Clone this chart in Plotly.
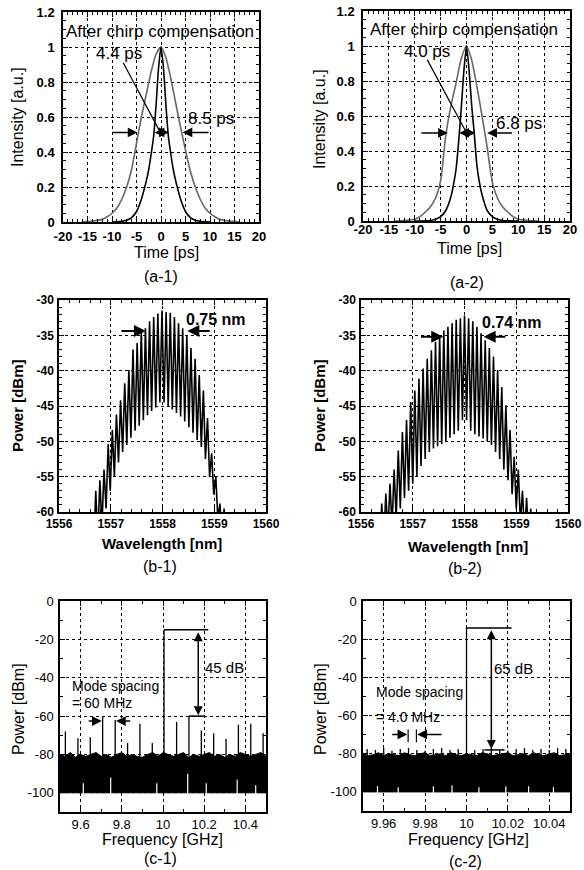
import plotly.graph_objects as go

W, H = 584, 870
FONT = "Liberation Sans, Arial, sans-serif"

# ---------------- data ----------------
# (a-1) pulse shapes
t_a1_black = [-10, -8, -7, -6, -5, -4, -3.5, -3, -2.5, -2, -1.5, -1, -0.5, 0, 0.5, 1, 1.5, 2, 2.5, 3, 3.5, 4, 5, 6, 7, 8, 10]
i_a1_black = [0, 0.004, 0.01, 0.025, 0.06, 0.13, 0.18, 0.235, 0.30, 0.39, 0.49, 0.67, 0.88, 1.0, 0.88, 0.67, 0.49, 0.39, 0.30, 0.235, 0.18, 0.13, 0.06, 0.025, 0.01, 0.004, 0]
t_a1_gray = [-16, -14, -12, -11, -10, -9, -8, -7, -6, -5, -4, -3, -2, -1, 0, 1, 2, 3, 4, 5, 6, 7, 8, 9, 10, 11, 12, 14, 16]
i_a1_gray = [0, 0.005, 0.015, 0.03, 0.05, 0.08, 0.13, 0.2, 0.3, 0.45, 0.6, 0.73, 0.86, 0.96, 1.0, 0.94, 0.82, 0.68, 0.54, 0.41, 0.29, 0.2, 0.13, 0.08, 0.05, 0.03, 0.015, 0.005, 0]
# (a-2) pulse shapes
t_a2_black = [-10, -7, -6, -5, -4, -3, -2.5, -2, -1.5, -1, -0.5, 0, 0.5, 1, 1.5, 2, 2.5, 3, 4, 5, 6, 7, 10]
i_a2_black = [0, 0.003, 0.01, 0.025, 0.06, 0.14, 0.21, 0.3, 0.46, 0.65, 0.86, 1.0, 0.86, 0.66, 0.5, 0.32, 0.22, 0.15, 0.06, 0.025, 0.01, 0.003, 0]
t_a2_gray = [-14, -12, -10, -9, -8, -7, -6, -5, -4, -3, -2, -1, 0, 1, 2, 3, 4, 5, 6, 7, 8, 9, 10, 12, 14]
i_a2_gray = [0, 0.003, 0.01, 0.025, 0.05, 0.08, 0.13, 0.23, 0.49, 0.66, 0.79, 0.93, 1.0, 0.92, 0.77, 0.60, 0.42, 0.22, 0.13, 0.08, 0.05, 0.025, 0.01, 0.003, 0]

# (b-1) optical comb lines
wl_b1 = [1556.71, 1556.79, 1556.87, 1556.95, 1557.03, 1557.11, 1557.19, 1557.27, 1557.35, 1557.43,
         1557.51, 1557.59, 1557.67, 1557.75, 1557.83, 1557.91, 1557.99, 1558.07, 1558.15, 1558.23,
         1558.31, 1558.39, 1558.47, 1558.55, 1558.63, 1558.71, 1558.79, 1558.87, 1558.95, 1559.03,
         1559.11, 1559.19]
peak_b1 = [-57, -55.5, -54, -50.4, -48.4, -46.2, -44.2, -41.8, -39.9, -37,
           -36.1, -34.3, -34, -33, -32.4, -31.9, -31.5, -31.7, -31.8, -32.4,
           -33.3, -34, -35, -36.8, -38.3, -40.6, -42.8, -46.7, -51.7, -55,
           -58.8, -59.5]
valley_b1 = [-66, -64, -62, -59.5, -57, -55, -53, -51.5, -50.5, -49.5, -48.5, -47.8, -47, -46.3,
             -45.7, -45.2, -44.5, -44.5, -45, -45.5, -46, -46.5, -47.2, -48, -48.8, -49.8, -50.8,
             -52.5, -55, -57.5, -61, -64, -67]
# (b-2) optical comb lines
wl_b2 = [1556.40, 1556.48, 1556.56, 1556.64, 1556.72, 1556.80, 1556.88, 1556.96, 1557.04, 1557.12,
         1557.20, 1557.28, 1557.36, 1557.44, 1557.52, 1557.60, 1557.68, 1557.76, 1557.84, 1557.92,
         1558.00, 1558.08, 1558.16, 1558.24, 1558.32, 1558.40, 1558.48, 1558.56, 1558.64, 1558.72,
         1558.80, 1558.88, 1558.96, 1559.04, 1559.12, 1559.20, 1559.28]
peak_b2 = [-58.8, -57.4, -56, -54, -51.3, -48.7, -47, -44.4, -42.8, -41.1,
           -39.7, -38.3, -37.1, -35.9, -35.2, -34.3, -33.8, -33.3, -32.8, -32.6,
           -32.2, -32.6, -33, -33.8, -34.7, -35.7, -36.8, -38, -39.9, -42.3,
           -44.9, -48.4, -52.2, -54, -57, -58, -59.5]
valley_b2 = [-66, -64, -63, -62, -61, -59.5, -58, -57, -56, -55,
             -53.5, -52.5, -51.5, -51, -50.7, -50.4, -50, -49.5, -49, -48.5,
             -47, -47, -48.5, -49, -49.3, -49.6, -50, -50.5, -51.5, -52.5,
             -54, -55.5, -57.5, -59.5, -61.5, -63, -64, -66]

# (c-1) RF spectrum
spike_f_c1 = [9.526, 9.587, 9.647, 9.707, 9.768, 9.828, 9.888, 9.948, 10.005, 10.066,
              10.126, 10.186, 10.246, 10.306, 10.366, 10.426, 10.486]
spike_p_c1 = [-68, -71.5, -71, -60, -62, -74, -64, -74, -15, -63,
              -60, -67.5, -69, -72, -64.5, -64, -69]
band_f_c1 = [9.500, 9.525, 9.550, 9.575, 9.600, 9.625, 9.650, 9.675, 9.700, 9.725,
             9.750, 9.775, 9.800, 9.825, 9.850, 9.875, 9.900, 9.925, 9.950, 9.975,
             10.000, 10.025, 10.050, 10.075, 10.100, 10.125, 10.150, 10.175, 10.200, 10.225,
             10.250, 10.275, 10.300, 10.325, 10.350, 10.375, 10.400, 10.425, 10.450, 10.475, 10.500]
band_top_c1 = [-80, -81, -79, -81.5, -80, -81, -80, -79, -81, -80,
               -81.5, -80, -79, -81, -80, -81, -81.5, -80, -79, -81,
               -79, -80, -81, -80, -79, -81.5, -80, -81, -80, -79,
               -81, -80, -81.5, -80, -81, -79, -80, -81, -80, -79, -81]
band_low_c1 = -100
notch_f_c1 = [9.613, 9.746, 9.97, 10.12, 10.21, 10.36, 10.45]
notch_p_c1 = [-95, -92, -95, -90, -95, -93, -96]

# (c-2) RF spectrum
spike_f_c2 = [9.952, 9.956, 9.960, 9.964, 9.968, 9.972, 9.976, 9.980, 9.984, 9.988, 9.992, 9.996,
              10.000, 10.004, 10.008, 10.012, 10.016, 10.020, 10.024, 10.028, 10.032, 10.036,
              10.040, 10.044, 10.048]
spike_p_c2 = [-77.5, -78, -77, -78.5, -77.5, -77, -78, -78.5, -77.5, -77, -78, -77.5,
              -14, -78, -77.5, -77, -78, -78.5, -77.5, -77, -78, -77.5, -78, -77, -77.5]
band_f_c2 = [9.950, 9.9525, 9.955, 9.9575, 9.960, 9.9625, 9.965, 9.9675, 9.970, 9.9725,
             9.975, 9.9775, 9.980, 9.9825, 9.985, 9.9875, 9.990, 9.9925, 9.995, 9.9975,
             10.000, 10.0025, 10.005, 10.0075, 10.010, 10.0125, 10.015, 10.0175, 10.020, 10.0225,
             10.025, 10.0275, 10.030, 10.0325, 10.035, 10.0375, 10.040, 10.0425, 10.045, 10.0475, 10.050]
band_top_c2 = [-80, -81, -80.5, -79.5, -81, -80, -80.5, -81, -79.5, -80.5,
               -81, -80, -79.5, -81, -80.5, -80, -81, -79.5, -80.5, -81,
               -80, -80.5, -81, -79.5, -80, -81, -80.5, -80, -79.5, -81,
               -80.5, -80, -81, -79.5, -80.5, -81, -80, -79.5, -81, -80.5, -80]
band_low_c2 = -100
notch_f_c2 = [9.957, 9.967, 9.984, 9.993, 10.006, 10.019, 10.030, 10.042]
notch_p_c2 = [-97, -97.5, -97, -96.5, -97.5, -97, -97, -97.5]

# tick values
ticks_a_x = [-20, -15, -10, -5, 0, 5, 10, 15, 20]
ticks_a_y = [0, 0.2, 0.4, 0.6, 0.8, 1, 1.2]
ticks_b_x = [1556, 1557, 1558, 1559, 1560]
ticks_b_y = [-60, -55, -50, -45, -40, -35, -30]
ticks_c1_x = [9.6, 9.8, 10, 10.2, 10.4]
ticks_c2_x = [9.96, 9.98, 10, 10.02, 10.04]
ticks_c_y = [-100, -80, -60, -40, -20, 0]

# ---------------- layout helpers ----------------
def dx(x0, x1):
    return [x0 / W, x1 / W]

def dy(y0, y1):
    return [1 - y1 / H, 1 - y0 / H]

def axis(domain, rng, tickvals, mdt, m0, anchor, bold, size, standoff):
    return dict(
        domain=domain, range=rng, anchor=anchor, automargin=False,
        tickmode="array", tickvals=tickvals, ticktext=[f"{v:g}" for v in tickvals],
        ticks="inside", ticklen=5, tickwidth=1, tickcolor="black",
        ticklabelstandoff=standoff,
        showline=True, linecolor="black", linewidth=1.5, mirror="allticks",
        showgrid=True, gridcolor="black", griddash="dot", gridwidth=1,
        zeroline=False, fixedrange=True,
        tickfont=dict(family=FONT, size=size, color="black", weight="bold" if bold else "normal"),
        minor=dict(ticks="inside", ticklen=3, tickcolor="black", tickmode="linear",
                   tick0=m0, dtick=mdt, showgrid=False),
    )

fig = go.Figure()

# ---- (a) pulses ----
for xs, ys, col, xa, ya in [
    (t_a1_gray, i_a1_gray, "#686868", "x", "y"),
    (t_a1_black, i_a1_black, "black", "x", "y"),
    (t_a2_gray, i_a2_gray, "#686868", "x2", "y2"),
    (t_a2_black, i_a2_black, "black", "x2", "y2"),
]:
    fig.add_trace(go.Scatter(x=xs, y=ys, mode="lines", xaxis=xa, yaxis=ya,
                             line=dict(color=col, width=1.6, shape="spline", smoothing=0.6),
                             showlegend=False, hoverinfo="skip"))

# ---- (b) comb spectra ----
def comb(lines, peaks, valleys):
    step = lines[1] - lines[0]
    vpos = [lines[0] - step / 2] + [(lines[i] + lines[i + 1]) / 2 for i in range(len(lines) - 1)] + [lines[-1] + step / 2]
    xs, ys = [], []
    for i in range(len(lines)):
        xs += [vpos[i], lines[i]]
        ys += [valleys[i], peaks[i]]
    xs.append(vpos[-1])
    ys.append(valleys[-1])
    return xs, ys

for lines, peaks, valleys, xa, ya in [(wl_b1, peak_b1, valley_b1, "x3", "y3"),
                                      (wl_b2, peak_b2, valley_b2, "x4", "y4")]:
    xs, ys = comb(lines, peaks, valleys)
    fig.add_trace(go.Scatter(x=xs, y=ys, mode="lines", xaxis=xa, yaxis=ya,
                             line=dict(color="black", width=1.6), showlegend=False, hoverinfo="skip"))

# ---- (c) RF spectra ----
def segs(fs, ps, base):
    xs, ys = [], []
    for f, p in zip(fs, ps):
        xs += [f, f, None]
        ys += [base, p, None]
    return xs, ys

for bf, bt, bl, sf, sp, nf, npk, xa, ya in [
    (band_f_c1, band_top_c1, band_low_c1, spike_f_c1, spike_p_c1, notch_f_c1, notch_p_c1, "x5", "y5"),
    (band_f_c2, band_top_c2, band_low_c2, spike_f_c2, spike_p_c2, notch_f_c2, notch_p_c2, "x6", "y6"),
]:
    fig.add_trace(go.Scatter(x=[bf[0], bf[-1]], y=[bl, bl], mode="lines", xaxis=xa, yaxis=ya,
                             line=dict(color="black", width=1), showlegend=False, hoverinfo="skip"))
    fig.add_trace(go.Scatter(x=bf, y=bt, mode="lines", xaxis=xa, yaxis=ya, fill="tonexty",
                             fillcolor="black", line=dict(color="black", width=1),
                             showlegend=False, hoverinfo="skip"))
    xs, ys = segs(sf, sp, -81)
    fig.add_trace(go.Scatter(x=xs, y=ys, mode="lines", xaxis=xa, yaxis=ya,
                             line=dict(color="black", width=1.3), showlegend=False, hoverinfo="skip"))
    xs, ys = segs(nf, npk, -101)
    fig.add_trace(go.Scatter(x=xs, y=ys, mode="lines", xaxis=xa, yaxis=ya,
                             line=dict(color="white", width=1.2), showlegend=False, hoverinfo="skip"))

# ---- axes ----
boxes = {
    1: (63, 259, 12, 222), 2: (363, 570, 11, 221),
    3: (59, 266, 300, 512), 4: (361, 568, 300, 512),
    5: (60, 266, 601, 812), 6: (363, 570, 601, 811),
}
cfg = {
    1: ([-20, 20], ticks_a_x, 1, 0, [0, 1.2], ticks_a_y, 0.05, 0, True, 13, 2, 4),
    2: ([-20, 20], ticks_a_x, 1, 0, [0, 1.2], ticks_a_y, 0.05, 0, True, 13, -4, 4),
    3: ([1556, 1560], ticks_b_x, 0.2, 1556, [-60, -30], ticks_b_y, 1, -60, True, 12, 0, 1),
    4: ([1556, 1560], ticks_b_x, 0.2, 1556, [-60, -30], ticks_b_y, 1, -60, True, 12, 0, 1),
    5: ([9.5, 10.5], ticks_c1_x, 0.1, 9.5, [-110, 0], ticks_c_y, 10, -110, False, 13, 0, 2),
    6: ([9.95, 10.05], ticks_c2_x, 0.01, 9.95, [-110, 0], ticks_c_y, 10, -110, False, 13, 0, 2),
}
lay = {}
for k, (x0, x1, y0, y1) in boxes.items():
    xr, xt, xm, x0m, yr, yt, ym, y0m, bold, fs, sox, soy = cfg[k]
    sx = "" if k == 1 else str(k)
    lay["xaxis" + sx] = axis(dx(x0, x1), xr, xt, xm, x0m, "y" + sx, bold, fs, sox)
    lay["yaxis" + sx] = axis(dy(y0, y1), yr, yt, ym, y0m, "x" + sx, bold, fs, soy)
fig.update_layout(**lay)

# ---- annotations ----
ann = []
shapes = []

def ptext(xp, yp, text, size, angle=0, bold=False):
    ann.append(dict(xref="paper", yref="paper", x=xp / W, y=1 - yp / H, showarrow=False,
                    text=f"<b>{text}</b>" if bold else text, textangle=angle,
                    xanchor="center", yanchor="middle",
                    font=dict(family=FONT, size=size, color="black")))

def dtext(xa, ya, x, y, text, size, anchor="center", bold=False):
    ann.append(dict(xref=xa, yref=ya, x=x, y=y, showarrow=False,
                    text=f"<b>{text}</b>" if bold else text,
                    xanchor=anchor, yanchor="middle",
                    font=dict(family=FONT, size=size, color="black")))

def arrow(xa, ya, tx, ty, hx, hy, both=False, width=1.5, size=1.3):
    ann.append(dict(xref=xa, yref=ya, axref=xa, ayref=ya, x=hx, y=hy, ax=tx, ay=ty, text="",
                    showarrow=True, arrowhead=2, arrowsize=size, arrowwidth=width,
                    arrowcolor="black", arrowside="end+start" if both else "end"))

def line(xa, ya, x0, y0, x1, y1, w=1.2):
    shapes.append(dict(type="line", xref=xa, yref=ya, x0=x0, y0=y0, x1=x1, y1=y1,
                       line=dict(color="black", width=w)))

# axis titles / panel labels
ptext(166, 252, "Time [ps]", 16)
ptext(18, 117, "Intensity [a.u.]", 16, angle=-90)
ptext(161, 276, "(a-1)", 16)
ptext(469, 248, "Time [ps]", 16)
ptext(320, 119, "Intensity [a.u.]", 16, angle=-90)
ptext(467, 283, "(a-2)", 16)
ptext(162, 543, "Wavelength [nm]", 15, bold=True)
ptext(17, 406, "Power [dBm]", 15, angle=-90, bold=True)
ptext(160, 566, "(b-1)", 16)
ptext(468, 546, "Wavelength [nm]", 15, bold=True)
ptext(319, 406, "Power [dBm]", 15, angle=-90, bold=True)
ptext(465, 568, "(b-2)", 16)
ptext(162, 839, "Frequency [GHz]", 16)
ptext(18, 709, "Power [dBm]", 16, angle=-90)
ptext(160, 858, "(c-1)", 16)
ptext(468, 839, "Frequency [GHz]", 16)
ptext(320, 709, "Power [dBm]", 16, angle=-90)
ptext(465, 861, "(c-2)", 16)

# (a-1)
dtext("x", "y", -0.2, 1.087, "After chirp compensation", 17)
dtext("x", "y", -8.6, 0.965, "4.4 ps", 17)
dtext("x", "y", 10.3, 0.59, "8.5 ps", 17)
line("x", "y", -7.7, 0.91, -0.2, 0.515)
arrow("x", "y", -1.6, 0.512, 1.6, 0.512, both=True)
arrow("x", "y", -10.1, 0.512, -4.8, 0.512)
arrow("x", "y", 10.0, 0.512, 4.4, 0.512)
# (a-2)
dtext("x2", "y2", -0.5, 1.093, "After chirp compensation", 17)
dtext("x2", "y2", -7.6, 0.966, "4.0 ps", 17)
dtext("x2", "y2", 10.2, 0.557, "6.8 ps", 17)
line("x2", "y2", -7.6, 0.922, -0.1, 0.51)
arrow("x2", "y2", -1.7, 0.503, 1.7, 0.503, both=True)
arrow("x2", "y2", -9.0, 0.503, -3.6, 0.503)
arrow("x2", "y2", 9.1, 0.503, 4.0, 0.503)
# (b-1)
dtext("x3", "y3", 1559.04, -32.7, "0.75 nm", 16, bold=True)
arrow("x3", "y3", 1557.18, -34.4, 1557.68, -34.4, width=2, size=1.2)
arrow("x3", "y3", 1558.94, -34.4, 1558.48, -34.4, width=2, size=1.2)
# (b-2)
dtext("x4", "y4", 1558.92, -33.2, "0.74 nm", 16, bold=True)
arrow("x4", "y4", 1557.13, -35.2, 1557.59, -35.2, width=2, size=1.2)
arrow("x4", "y4", 1558.82, -35.2, 1558.37, -35.2, width=2, size=1.2)
# (c-1)
line("x5", "y5", 10.005, -15, 10.22, -15, 1.5)
line("x5", "y5", 10.126, -60, 10.2, -60, 1.5)
arrow("x5", "y5", 10.171, -15.5, 10.171, -59.5, both=True, width=1.5, size=1.2)
dtext("x5", "y5", 10.30, -34.7, "45 dB", 15)
dtext("x5", "y5", 9.549, -44.4, "Mode spacing", 14, anchor="left")
dtext("x5", "y5", 9.549, -53, "= 60 MHz", 14, anchor="left")
arrow("x5", "y5", 9.632, -62.6, 9.703, -62.6)
arrow("x5", "y5", 9.848, -62.6, 9.772, -62.6)
# (c-2)
line("x6", "y6", 10.0, -14.1, 10.0218, -14.1, 1.5)
line("x6", "y6", 10.0087, -78, 10.0184, -78, 1.5)
arrow("x6", "y6", 10.012, -14.6, 10.012, -77.5, both=True, width=1.5, size=1.2)
dtext("x6", "y6", 10.0227, -35.2, "65 dB", 15)
dtext("x6", "y6", 9.9552, -47.7, "Mode spacing", 14, anchor="left")
dtext("x6", "y6", 9.9552, -60.7, "= 4.0 MHz", 14, anchor="left")
arrow("x6", "y6", 9.9634, -69.9, 9.9714, -69.9)
arrow("x6", "y6", 9.9887, -69.9, 9.9762, -69.9)
line("x6", "y6", 9.9718, -67.3, 9.9718, -74, 1.2)
line("x6", "y6", 9.9758, -67.3, 9.9758, -74, 1.2)

fig.update_layout(
    template="none",
    width=W, height=H, margin=dict(l=0, r=0, t=0, b=0, pad=0, autoexpand=False),
    paper_bgcolor="white", plot_bgcolor="white",
    showlegend=False, annotations=ann, shapes=shapes,
    font=dict(family=FONT, color="black"),
)

fig.write_html("out.html", config={"displayModeBar": False},
               post_script="document.body.style.margin='0';document.body.style.overflow='hidden';")
